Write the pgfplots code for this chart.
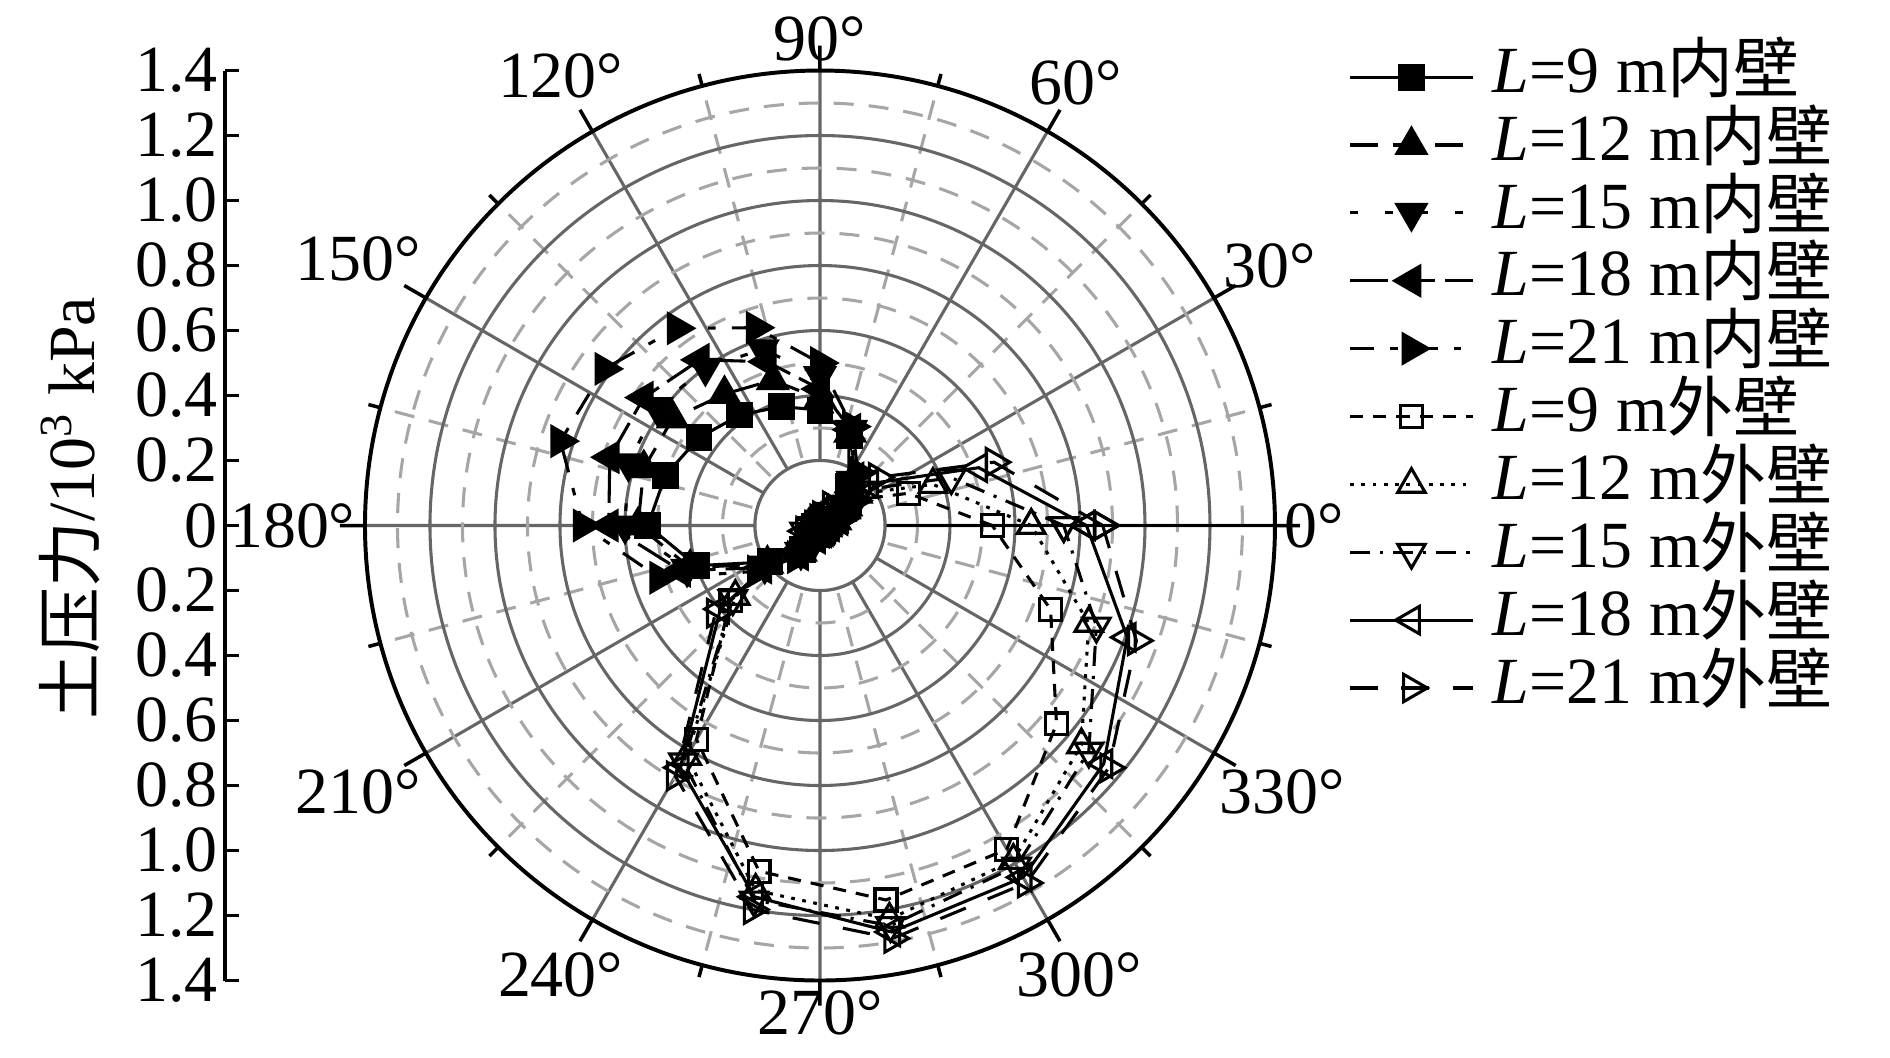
\documentclass[border=0pt]{standalone}
\usepackage{fontspec}
\setmainfont{Liberation Serif}
\newfontfamily\cjk{Noto Sans CJK SC}
\usepackage{pgfplots}
\usepgfplotslibrary{polar}
\pgfplotsset{compat=1.18}

\pgfplotsset{
  inner/.style={black, line width=0.7pt},
  outer/.style={black, line width=0.7pt},
}

\begin{document}
\fontsize{15}{18}\selectfont
\begin{tikzpicture}
\path (-6.56cm,-4.252cm) rectangle (8.56cm,4.204cm);

% radial scale on the left
\begin{axis}[
  at={(-4.76cm,0cm)}, anchor=west,
  scale only axis, width=1mm, height=7.28cm,
  xmin=0, xmax=1, ymin=-1.4, ymax=1.4,
  hide x axis,
  axis y line=left, y axis line style={-, line width=0.8pt},
  ytick={-1.4,-1.2,-1.0,-0.8,-0.6,-0.4,-0.2,0,0.2,0.4,0.6,0.8,1.0,1.2,1.4},
  yticklabels={1.4,1.2,1.0,0.8,0.6,0.4,0.2,0,0.2,0.4,0.6,0.8,1.0,1.2,1.4},
  yticklabel style={inner sep=1.5pt},
  tick align=inside, major tick length=1.1mm,
  tick style={black, line width=0.8pt},
  ylabel={{\cjk 土压力}/10\textsuperscript{3} kPa},
  ylabel style={at={(axis description cs:-8.2,0.519)}, anchor=south},
]
\end{axis}

\begin{polaraxis}[
  at={(0,0)}, anchor=center,
  scale only axis, width=7.28cm, height=7.28cm,
  ymin=0, ymax=1.4,
  xtick={0,30,...,330},
  minor xtick={15,45,...,345},
  ytick={0.2,0.4,...,1.2},
  minor ytick={0.3,0.5,...,1.3},
  yticklabels={},
  grid=both,
  major grid style={draw=black!60, line width=0.7pt},
  minor grid style={draw=black!35, line width=0.7pt, dash pattern=on 1.6mm off 1.2mm},
  axis line style={black, line width=0.9pt},
  xticklabel={\pgfmathprintnumber[assume math mode=true]{\tick}°},
  xticklabel style={inner sep=2pt},
  tick align=inside,
  xtick style={black, line width=0.8pt},
  ytick style={draw=none},
  major tick length=2mm, minor tick length=1mm,
  legend cell align=left,
  legend style={at={(1.08,1.031)}, anchor=north west, draw=none, fill=none,
    inner sep=0pt, row sep=0pt,
    nodes={inner sep=0.3mm, text height=3.63mm, text depth=1.2mm},
    /tikz/every odd column/.append style={column sep=1.2mm}},
  legend image code/.code={\draw[mark repeat=2, mark phase=2]
    plot coordinates {(0cm,0cm)(0.49cm,0cm)(0.98cm,0cm)};},
]
\draw[black!60, line width=0.7pt, fill=white] (axis cs:0,0) circle[radius=0.52cm];

% inner wall
\addplot[inner, mark=square*, mark size=2.7pt, mark options={solid}] coordinates {
(0,0.02)(18,0.05)(36,0.09)(54,0.15)(72,0.29)(90,0.355)(108,0.385)(126,0.42)(144,0.46)(162,0.50)
(180,0.53)(198,0.40)(216,0.19)(234,0.09)(252,0.03)(270,0.02)(288,0.01)(306,0.01)(324,0.01)(342,0.01)(360,0.02)};
\addlegendentry{\textit{L}=9 m{\cjk 内壁}}
\addplot[inner, dash pattern=on 2.2mm off 1.2mm, mark=triangle*, mark size=3.8pt, mark options={solid}] coordinates {
(0,0.02)(18,0.05)(36,0.10)(54,0.16)(72,0.30)(90,0.39)(108,0.47)(126,0.50)(144,0.56)(162,0.57)
(180,0.56)(198,0.42)(216,0.20)(234,0.10)(252,0.03)(270,0.02)(288,0.01)(306,0.01)(324,0.01)(342,0.02)(360,0.02)};
\addlegendentry{\textit{L}=12 m{\cjk 内壁}}
\addplot[inner, dash pattern=on 0.6mm off 2.2mm, mark=triangle*, mark size=3.8pt, mark options={solid, rotate=180}] coordinates {
(0,0.03)(18,0.06)(36,0.11)(54,0.17)(72,0.31)(90,0.46)(108,0.57)(126,0.60)(144,0.62)(162,0.62)
(180,0.60)(198,0.43)(216,0.21)(234,0.10)(252,0.04)(270,0.02)(288,0.02)(306,0.01)(324,0.02)(342,0.02)(360,0.03)};
\addlegendentry{\textit{L}=15 m{\cjk 内壁}}
\addplot[inner, dash pattern=on 3mm off 0.8mm, mark=triangle*, mark size=3.8pt, mark options={solid, rotate=90}] coordinates {
(0,0.03)(18,0.06)(36,0.12)(54,0.18)(72,0.31)(90,0.42)(108,0.53)(126,0.63)(144,0.67)(162,0.68)
(180,0.65)(198,0.45)(216,0.22)(234,0.11)(252,0.04)(270,0.02)(288,0.02)(306,0.02)(324,0.02)(342,0.02)(360,0.03)};
\addlegendentry{\textit{L}=18 m{\cjk 内壁}}
\addplot[inner, dash pattern=on 1.9mm off 1.3mm on 0.6mm off 1.3mm, mark=triangle*, mark size=3.8pt, mark options={solid, rotate=-90}] coordinates {
(0,0.03)(18,0.07)(36,0.13)(54,0.20)(72,0.32)(90,0.50)(108,0.64)(126,0.75)(144,0.82)(162,0.84)
(180,0.73)(198,0.52)(216,0.24)(234,0.12)(252,0.05)(270,0.03)(288,0.02)(306,0.02)(324,0.02)(342,0.03)(360,0.03)};
\addlegendentry{\textit{L}=21 m{\cjk 内壁}}

% outer wall
\addplot[outer, dash pattern=on 1.05mm off 0.8mm, mark=square, mark size=2.5pt, mark options={solid}] coordinates {
(0,0.53)(20,0.29)(40,0.12)(60,0.04)(80,0.02)(100,0.01)(120,0.01)(140,0.01)(160,0.01)(180,0.02)
(200,0.04)(220,0.36)(240,0.76)(260,1.08)(280,1.17)(300,1.15)(320,0.95)(340,0.755)(360,0.53)};
\addlegendentry{\textit{L}=9 m{\cjk 外壁}}
\addplot[outer, dash pattern=on 0.3mm off 0.6mm, mark=triangle, mark size=3.6pt, mark options={solid}] coordinates {
(0,0.65)(20,0.37)(40,0.15)(60,0.05)(80,0.02)(100,0.01)(120,0.01)(140,0.01)(160,0.01)(180,0.02)
(200,0.04)(220,0.34)(240,0.82)(260,1.14)(280,1.23)(300,1.19)(320,1.05)(340,0.88)(360,0.65)};
\addlegendentry{\textit{L}=12 m{\cjk 外壁}}
\addplot[outer, dash pattern=on 1.6mm off 0.8mm on 0.25mm off 0.8mm, mark=triangle, mark size=3.6pt, mark options={solid, rotate=180}] coordinates {
(0,0.75)(20,0.43)(40,0.17)(60,0.05)(80,0.02)(100,0.01)(120,0.01)(140,0.01)(160,0.01)(180,0.02)
(200,0.05)(220,0.35)(240,0.84)(260,1.17)(280,1.25)(300,1.21)(320,1.08)(340,0.905)(360,0.75)};
\addlegendentry{\textit{L}=15 m{\cjk 外壁}}
\addplot[outer, mark=triangle, mark size=3.6pt, mark options={solid, rotate=90}] coordinates {
(0,0.82)(20,0.52)(40,0.20)(60,0.06)(80,0.02)(100,0.01)(120,0.01)(140,0.01)(160,0.01)(180,0.02)
(200,0.05)(220,0.40)(240,0.86)(260,1.16)(280,1.27)(300,1.25)(320,1.14)(340,1.006)(360,0.82)};
\addlegendentry{\textit{L}=18 m{\cjk 外壁}}
\addplot[outer, dash pattern=on 2.2mm off 1.9mm, mark=triangle, mark size=3.6pt, mark options={solid, rotate=-90}] coordinates {
(0,0.87)(20,0.57)(40,0.23)(60,0.07)(80,0.03)(100,0.02)(120,0.01)(140,0.01)(160,0.01)(180,0.02)
(200,0.05)(220,0.42)(240,0.89)(260,1.20)(280,1.29)(300,1.27)(320,1.16)(340,1.036)(360,0.87)};
\addlegendentry{\textit{L}=21 m{\cjk 外壁}}
\end{polaraxis}
\end{tikzpicture}
\end{document}
